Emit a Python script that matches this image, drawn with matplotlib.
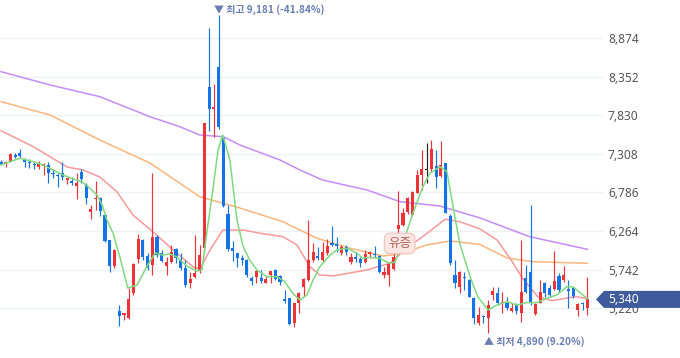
"""
일봉 캔들 차트 + 이동평균선 (5/20/60/120) 재현
"""

import matplotlib
matplotlib.use('Agg')
import matplotlib.pyplot as plt
import matplotlib.transforms as mtransforms
from matplotlib.patches import Polygon

plt.rcParams['font.family'] = ['Noto Sans CJK KR', 'DejaVu Sans']

# ==================== 데이터 ====================
OPEN = [7202, 7175, 7202, 7297, 7315, 7238, 7202, 7175, 7126, 7148,
        7157, 7053, 7026, 7045, 6958, 6945, 6869, 7058, 6887, 6518,
        6693, 6707, 6481, 6143, 5792, 5183, 5125, 5085, 5422, 5882,
        6143, 5927, 5805, 6188, 5963, 5792, 5850, 6017, 5882, 5769,
        5566, 5647, 5738, 6031, 8208, 7915, 8478, 7518, 6495, 6039,
        5963, 5896, 5873, 5625, 5647, 5625, 5566, 5670, 5738, 5657,
        5341, 5355, 5025, 5287, 5512, 5602, 5873, 5927, 5873, 5963,
        6098, 6085, 5963, 6053, 5850, 5918, 5882, 5850, 5954, 5954,
        5927, 5670, 5670, 5751, 6292, 6346, 6526, 6481, 6782, 7022,
        7094, 7103, 7144, 7008, 7180, 6468, 5670, 5512, 5647, 5602,
        5355, 5017, 5116, 5093, 5400, 5422, 5292, 5292, 5188, 5264,
        5161, 5634, 5715, 5143, 5296, 5558, 5498, 5476, 5657, 5602,
        5476, 5490, 5197, 5296, 5228]
HIGH = [7225, 7215, 7315, 7324, 7369, 7248, 7234, 7202, 7215, 7188,
        7202, 7099, 7045, 7202, 6981, 6991, 7053, 7099, 6918, 6616,
        6945, 6720, 6495, 6143, 6017, 5264, 5161, 5498, 5828, 6224,
        6153, 5963, 7045, 6207, 6008, 5918, 6076, 6031, 5963, 5873,
        5715, 6207, 6076, 7730, 9005, 8252, 9181, 7549, 6616, 6134,
        5972, 5940, 5882, 5657, 5738, 5738, 5661, 5729, 5756, 5670,
        5467, 5355, 5296, 5444, 5625, 6413, 6098, 6053, 6121, 6153,
        6332, 6188, 6076, 6076, 5963, 5985, 5918, 6008, 5994, 6062,
        5940, 5782, 5850, 5963, 6805, 6571, 6729, 6805, 7090, 7360,
        7459, 7495, 7360, 7486, 7188, 6495, 5873, 5729, 5715, 5612,
        5369, 5242, 5129, 5332, 5512, 5512, 5444, 5377, 5287, 5287,
        6143, 5805, 6616, 5287, 5602, 5580, 5535, 5998, 5693, 5792,
        5602, 5503, 5287, 5310, 5647]
LOW = [7157, 7134, 7194, 7248, 7248, 7134, 7113, 7099, 7099, 7018,
       6918, 6977, 6864, 6954, 6900, 6887, 6693, 6909, 6630, 6427,
       6549, 6468, 6112, 5706, 5761, 4981, 5062, 5071, 5400, 5828,
       5873, 5738, 5670, 5918, 5842, 5670, 5828, 5828, 5738, 5512,
       5490, 5625, 5693, 5963, 7621, 7540, 7640, 6594, 5998, 5864,
       5782, 5805, 5639, 5535, 5566, 5566, 5557, 5557, 5602, 5535,
       5287, 4994, 4963, 5152, 5386, 5593, 5850, 5873, 5850, 5940,
       6062, 5985, 5940, 5940, 5819, 5850, 5782, 5836, 5904, 5918,
       5701, 5625, 5521, 5738, 6211, 6332, 6495, 6468, 6774, 6819,
       6918, 7067, 6842, 6999, 6504, 5805, 5490, 5431, 5467, 5369,
       5008, 4994, 5017, 4890, 5332, 5264, 5152, 5197, 5175, 5143,
       5039, 5422, 5264, 5129, 5287, 5377, 5377, 5467, 5444, 5580,
       5220, 5355, 5111, 5197, 5129]
CLOSE = [7171, 7198, 7306, 7269, 7283, 7202, 7180, 7153, 7180, 7171,
         7045, 7031, 7008, 6991, 6981, 6918, 6914, 6964, 6707, 6562,
         6715, 6531, 6134, 5796, 6008, 5120, 5152, 5341, 5819, 6153,
         5918, 5761, 6180, 5940, 5864, 5842, 5977, 5896, 5769, 5535,
         5612, 5701, 5940, 7721, 7918, 7938, 7667, 6603, 6017, 5994,
         5896, 5873, 5670, 5589, 5724, 5593, 5616, 5724, 5612, 5580,
         5319, 5004, 5287, 5422, 5612, 5873, 5977, 5896, 5985, 6062,
         6076, 6062, 6053, 5985, 5918, 5882, 5836, 5950, 5985, 5936,
         5715, 5715, 5819, 5918, 6346, 6512, 6707, 6796, 7022, 7099,
         7094, 7369, 6991, 7157, 6512, 5828, 5558, 5715, 5634, 5377,
         5085, 5129, 5098, 5264, 5454, 5287, 5310, 5229, 5229, 5188,
         5444, 5444, 5287, 5274, 5444, 5422, 5400, 5593, 5467, 5670,
         5458, 5386, 5278, 5278, 5340]

# 이동평균선
MA5_IDX = [0, 1.9, 4, 6.8, 8.9, 11, 13.1, 15, 17.1, 18.8, 20.3, 21.4, 22.4,
           23.7, 25.2, 26.8, 28.8, 30.9, 32.6, 34.2, 35.7, 37.2, 39.3, 41.4,
           42.5, 43.6, 44.8, 45.9, 46.9, 48.4, 49.9, 51.2, 52.6, 54.1, 56.2,
           58.4, 60, 61.7, 63.2, 64.7, 66, 67.4, 69.6, 71, 73.2, 75.3, 76.5,
           78, 80.1, 82.2, 83.3, 85, 87.1, 89.2, 90.7, 92.8, 94.3, 95.6, 97,
           99.2, 100.8, 103, 104.9, 107, 109.1, 111.2, 113.3, 115.4, 117.5,
           119.7, 121, 124]
MA5_VAL = [7157, 7202, 7248, 7202, 7157, 7090, 7022, 6977, 6931, 6842, 6752,
           6616, 6413, 6234, 5900, 5494, 5535, 5792, 5967, 5940, 5954, 5913,
           5792, 5724, 5738, 6278, 6819, 7360, 7563, 7225, 6413, 6053, 5873,
           5738, 5647, 5647, 5580, 5422, 5332, 5400, 5602, 5782, 5940, 6008,
           6031, 5963, 5896, 5909, 5893, 5828, 5846, 6098, 6504, 6864, 7045,
           7134, 7067, 6594, 6098, 5647, 5377, 5197, 5264, 5309, 5264, 5296,
           5296, 5355, 5400, 5512, 5508, 5350]

MA20_IDX = [0, 6.8, 14, 17.3, 20.9, 24.5, 27.9, 32.1, 36.4, 40.6, 42.1, 44.2,
            46.9, 51.2, 54.8, 59.6, 62.6, 65.3, 67.4, 70.2, 77.4, 82.2, 85.8,
            90.1, 93.9, 97, 101.3, 104.9, 107.6, 110.4, 113.5, 116.5, 121.4,
            124]
MA20_VAL = [7621, 7405, 7130, 7090, 6995, 6796, 6481, 6256, 6008, 5782, 5751,
            6008, 6278, 6278, 6234, 6188, 6076, 5782, 5670, 5657, 5738, 5828,
            6031, 6234, 6423, 6391, 6292, 6143, 5900, 5616, 5377, 5323, 5377,
            5352]

MA60_IDX = [0, 10.4, 20.9, 31.5, 42, 50.5, 59.6, 66.8, 73.8, 80.8, 84.4, 90,
            95, 101.3, 107, 112.5, 124]
MA60_VAL = [8013, 7833, 7495, 7184, 6729, 6576, 6391, 6166, 6031, 5927, 5954,
            6076, 6130, 6082, 5900, 5850, 5828]

MA120_IDX = [0, 10.4, 20.9, 31.5, 37.8, 42, 47, 50.5, 59, 63.2, 68, 77.4,
             84.4, 92.8, 101.3, 111.8, 124]
MA120_VAL = [8419, 8239, 8081, 7810, 7675, 7563, 7540, 7428, 7225, 7090, 6954,
             6819, 6661, 6603, 6441, 6188, 6017]

Y_TICKS = [5220, 5742, 6264, 6786, 7308, 7830, 8352, 8874]

HIGH_LABEL = '▼ 최고 9,181 (-41.84%)'
LOW_LABEL = '▲ 최저 4,890 (9.20%)'
LAST_LABEL = '5,340'
EVENT_LABEL = '유증'
EVENT_IDX = 84

# ==================== 스타일 ====================
RED = '#ee3338'
BLUE = '#1673e6'
LABEL_BLUE = '#6a7db3'
TAG_BLUE = '#3f5b9b'


def draw_candles(ax):
    for i, (o, h, l, c) in enumerate(zip(OPEN, HIGH, LOW, CLOSE)):
        if c > o:
            color = RED
        elif c < o:
            color = BLUE
        else:
            color = '#222222'
        ax.vlines(i, l, h, color=color, linewidth=0.85, zorder=3)
        body = max(abs(c - o), 14)
        ax.bar(i, body, bottom=min(o, c) - (body - abs(c - o)) / 2,
               width=0.66, color=color, linewidth=0, zorder=3)


def main():
    fig = plt.figure(figsize=(6.8, 3.58), dpi=100)
    ax = fig.add_axes([0, 16 / 358, 603 / 680, 342 / 358])

    # 이동평균선
    ax.plot(MA120_IDX, MA120_VAL, color='#c48cf6', linewidth=1.1, zorder=2)
    ax.plot(MA60_IDX, MA60_VAL, color='#fbb57c', linewidth=1.1, zorder=2)
    ax.plot(MA20_IDX, MA20_VAL, color='#f7999b', linewidth=1.1, zorder=2)
    draw_candles(ax)
    ax.plot(MA5_IDX, MA5_VAL, color='#7fd97f', linewidth=1.1, zorder=4)

    ax.set_xlim(-0.21, 127.3)
    ax.set_ylim(4764, 9388)
    ax.set_xticks([])
    ax.set_yticks(Y_TICKS)
    ax.set_yticklabels([f'{v:,}' for v in Y_TICKS])
    ax.yaxis.tick_right()
    ax.tick_params(axis='y', length=0, pad=3.6, labelsize=8.6,
                   labelcolor='#555555')
    for lab in ax.get_yticklabels():
        lab.set_fontfamily(['Noto Sans', 'DejaVu Sans'])
    ax.grid(axis='y', color='#eef0f3', linewidth=1.0, zorder=0)
    for s in ax.spines.values():
        s.set_visible(False)

    # 최고 / 최저
    hi = HIGH.index(max(HIGH))
    lo = LOW.index(min(LOW))
    ax.annotate(HIGH_LABEL, xy=(hi, HIGH[hi]), xytext=(-5, 6),
                textcoords='offset pixels', ha='left', va='center',
                fontsize=7.2, color=LABEL_BLUE, fontweight='bold',
                annotation_clip=False)
    ax.annotate(LOW_LABEL, xy=(lo, LOW[lo]), xytext=(-4, -9),
                textcoords='offset pixels', ha='left', va='center',
                fontsize=7.2, color=LABEL_BLUE, fontweight='bold',
                annotation_clip=False)

    # 유증 이벤트
    ax.text(EVENT_IDX + 0.3, 6096, EVENT_LABEL, ha='center', va='center',
            fontsize=9, color='#b5625c', zorder=6,
            bbox=dict(boxstyle='round,pad=0.3,rounding_size=0.45',
                      facecolor='#fbe6e3', edgecolor='#f0c6c0', linewidth=0.9))

    # 현재가 태그
    last = CLOSE[-1]
    trans = mtransforms.blended_transform_factory(fig.transFigure, ax.transData)
    half = 8.5 * (9388 - 4764) / 342
    tag = Polygon([(596 / 680, last), (604 / 680, last + half), (1.0, last + half),
                   (1.0, last - half), (604 / 680, last - half)],
                  closed=True, facecolor=TAG_BLUE, edgecolor='none',
                  transform=trans, clip_on=False, zorder=10)
    ax.add_patch(tag)
    ax.text(608 / 680, last, LAST_LABEL, transform=trans, ha='left',
            va='center', color='white', fontsize=8.6, zorder=11,
            family=['Noto Sans', 'DejaVu Sans'])

    fig.savefig('out.png', dpi=100, facecolor='white')
    plt.close(fig)


if __name__ == '__main__':
    main()
